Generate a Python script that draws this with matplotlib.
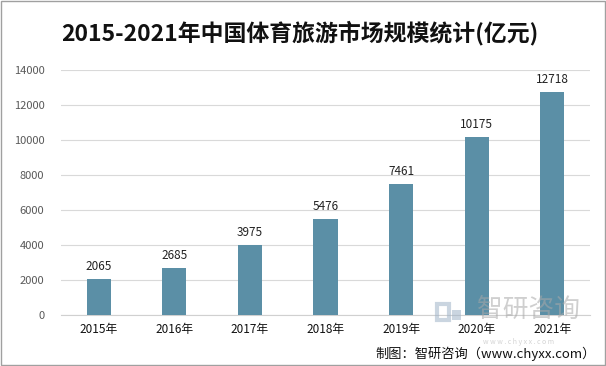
import matplotlib.pyplot as plt
from matplotlib.patches import Rectangle

plt.rcParams['font.family'] = ['Noto Sans CJK SC', 'DejaVu Sans']

years = ["2015年", "2016年", "2017年", "2018年", "2019年", "2020年", "2021年"]
values = [2065, 2685, 3975, 5476, 7461, 10175, 12718]
yticks = [0, 2000, 4000, 6000, 8000, 10000, 12000, 14000]

fig = plt.figure(figsize=(6.06, 3.66), dpi=100)
ax = fig.add_axes([61 / 606, 1 - 315 / 366, 529 / 606, 245 / 366])

x = range(len(years))
ax.bar(x, values, width=0.32, color="#5b8fa6", zorder=3)
for i, v in zip(x, values):
    ax.text(i, v + 350, str(v), ha="center", va="bottom", fontsize=8.5, color="#222222")

ax.set_xlim(-0.5, len(years) - 0.5)
ax.set_ylim(0, 14000)
ax.set_yticks(yticks)
ax.set_yticklabels([str(t) for t in yticks], fontsize=8, color="#595959")
ax.set_xticks(list(x))
ax.set_xticklabels(years, fontsize=8.5, color="#111111")
ax.tick_params(axis="both", length=0)
ax.tick_params(axis="y", pad=12)
ax.tick_params(axis="x", pad=6)
ax.grid(axis="y", color="#d9d9d9", linewidth=0.8, zorder=0)
for s in ["top", "right", "left"]:
    ax.spines[s].set_visible(False)
ax.spines["bottom"].set_color("#d0d0d0")

fig.text(0.495, 1 - 33 / 366, "2015-2021年中国体育旅游市场规模统计(亿元)",
         ha="center", va="center", fontsize=16.5, fontweight="bold", color="#111111")

# watermark (semi-transparent, over the bars like the original)
fig.text(528 / 606, 1 - 310 / 366, "智研咨询", ha="center", va="center",
         fontsize=18.5, color="#a8a8a8", alpha=0.55, zorder=5)
fig.patches.append(Rectangle((437 / 606, 1 - 320 / 366), 12 / 606, 16 / 366,
                             transform=fig.transFigure, fill=False,
                             edgecolor="#9fb3c8", linewidth=3, alpha=0.55))
fig.patches.append(Rectangle((452 / 606, 1 - 320 / 366), 9 / 606, 10 / 366,
                             transform=fig.transFigure, fill=True,
                             facecolor="#9fb3c8", edgecolor="none", alpha=0.55))
fig.text(519 / 606, 1 - 341.5 / 366, "w w w . c h y x x . c o m", ha="center", va="center",
         fontsize=5, color="#b0b0b0", alpha=0.55)

fig.text(596 / 606, 1 - 354 / 366, "制图：智研咨询（www.chyxx.com）", ha="right", va="center",
         fontsize=9.5, color="#111111")

fig.patches.append(Rectangle((0.001, 0.002), 0.997, 0.995, transform=fig.transFigure,
                             fill=False, edgecolor="#a0a0a0", linewidth=1))

fig.savefig("out.png", dpi=100)
